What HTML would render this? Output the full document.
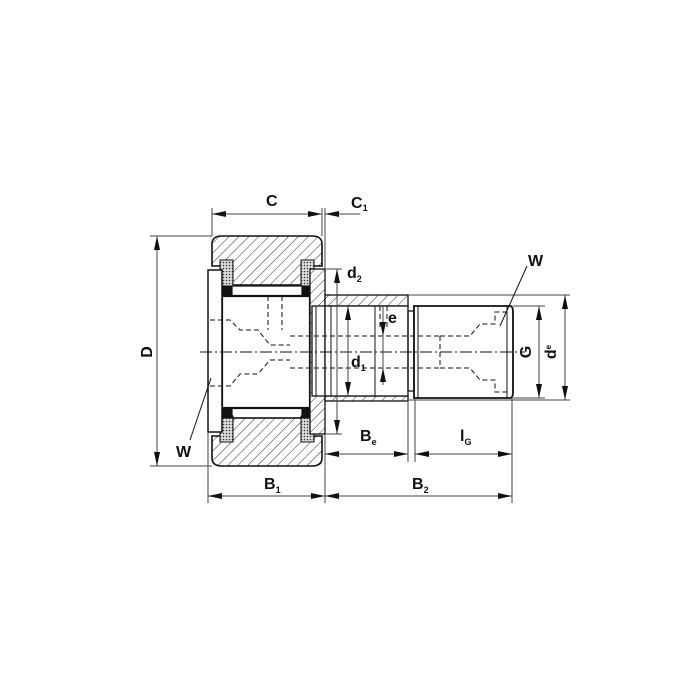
<!DOCTYPE html>
<html><head><meta charset="utf-8"><style>
html,body{margin:0;padding:0;background:#fff;width:700px;height:700px;overflow:hidden}
text{font-family:"Liberation Sans",Arial,sans-serif;font-weight:bold;fill:#111}
</style></head><body>
<svg width="700" height="700" viewBox="0 0 700 700" xmlns="http://www.w3.org/2000/svg">
<defs>
<pattern id="h" patternUnits="userSpaceOnUse" width="7" height="7" patternTransform="rotate(45)">
<rect width="7" height="7" fill="#fff"/><line x1="0" y1="0" x2="0" y2="7" stroke="#333" stroke-width="1"/></pattern>
<pattern id="d" patternUnits="userSpaceOnUse" width="3" height="3">
<rect width="3" height="3" fill="#ddd"/><circle cx="1.5" cy="1.5" r="0.8" fill="#333"/></pattern>
<marker id="a" viewBox="0 0 14 6" refX="14" refY="3" markerWidth="14" markerHeight="6" orient="auto-start-reverse" markerUnits="userSpaceOnUse"><path d="M0,0L14,3L0,6z" fill="#111"/></marker>
</defs>
<g stroke="#111" fill="none">
<path d="M212,244 Q212,236 222,236 L312,236 Q322,236 322,244 L322,266 L302,266 L302,285 L232,285 L232,266 L212,266 Z" fill="url(#h)" stroke-width="1.6"/>
<path d="M212,458 Q212,466 222,466 L312,466 Q322,466 322,458 L322,436 L302,436 L302,418 L232,418 L232,436 L212,436 Z" fill="url(#h)" stroke-width="1.6"/>
<rect x="220" y="260" width="13" height="26" fill="url(#d)" stroke-width="1"/>
<rect x="301" y="260" width="13" height="26" fill="url(#d)" stroke-width="1"/>
<rect x="220" y="416" width="13" height="26" fill="url(#d)" stroke-width="1"/>
<rect x="301" y="416" width="13" height="26" fill="url(#d)" stroke-width="1"/>
<rect x="222" y="286" width="10" height="10" fill="#111"/>
<rect x="302" y="286" width="9" height="10" fill="#111"/>
<rect x="222" y="408" width="10" height="10" fill="#111"/>
<rect x="302" y="408" width="9" height="10" fill="#111"/>
<rect x="232" y="286" width="70" height="10" stroke-width="1.2"/>
<rect x="232" y="408" width="70" height="10" stroke-width="1.2"/>
<rect x="222" y="296" width="88" height="112" stroke-width="2.2" fill="#fff"/>
<rect x="208" y="270" width="14" height="162" stroke-width="1.5" fill="#fff"/>
<rect x="310" y="269" width="15" height="165" fill="url(#h)" stroke-width="1.3"/>
<rect x="312" y="306" width="13" height="90" fill="#fff" stroke-width="1.3"/>
<line x1="316" y1="306" x2="316" y2="396"/>
<rect x="325" y="295" width="83" height="11" fill="url(#h)" stroke-width="1.3"/>
<rect x="325" y="396" width="83" height="5" fill="url(#h)" stroke-width="1.3"/>
<rect x="325" y="306" width="83" height="90" fill="#fff" stroke-width="1.3"/>
<line x1="331" y1="306" x2="331" y2="396"/>
<line x1="375" y1="306" x2="375" y2="396"/>
<rect x="408" y="311" width="6" height="80" stroke-width="1.3"/>
<path d="M414,306 L510,306 Q513,306 513,312 L513,392 Q513,398 510,398 L414,398 Z" stroke-width="1.8" fill="#fff"/>
<line x1="418" y1="306" x2="418" y2="398"/>
<line x1="507" y1="306" x2="507" y2="398"/>
<g stroke-dasharray="5,3" stroke-width="1">
<path d="M210,320 L230,320 L240,330 L258,330 L270,345 L290,345 M210,386 L230,386 L240,374 L258,374 L270,360 L290,360"/>
<path d="M268,296 L268,330 M282,296 L282,330"/>
<path d="M290,336 L330,336 L440,336 M290,368 L440,368"/>
<path d="M440,336 L440,368 M440,336 L470,336 L480,324 L495,324 L495,312 L510,312 M440,368 L470,368 L480,380 L495,380 L495,392 L510,392"/>
<path d="M380,306 L380,330 M387,306 L387,330"/>
</g>
<line x1="200" y1="352" x2="525" y2="352" stroke-dasharray="12,3,2,3" stroke-width="1"/>
</g>
<g stroke="#444" stroke-width="1" fill="none">
<line x1="212" y1="236" x2="212" y2="208"/><line x1="322" y1="236" x2="322" y2="208"/><line x1="325" y1="270" x2="325" y2="208"/>
<line x1="212" y1="214" x2="322" y2="214" marker-start="url(#a)" marker-end="url(#a)"/>
<line x1="360" y1="214" x2="325" y2="214" marker-end="url(#a)"/>
<line x1="150" y1="236" x2="212" y2="236"/><line x1="150" y1="466" x2="212" y2="466"/>
<line x1="157" y1="236" x2="157" y2="466" marker-start="url(#a)" marker-end="url(#a)"/>
<line x1="208" y1="432" x2="208" y2="503"/><line x1="325" y1="434" x2="325" y2="503"/><line x1="512" y1="398" x2="512" y2="503"/>
<line x1="408" y1="401" x2="408" y2="462"/><line x1="415" y1="398" x2="415" y2="462"/>
<line x1="208" y1="496" x2="325" y2="496" marker-start="url(#a)" marker-end="url(#a)"/>
<line x1="325" y1="496" x2="512" y2="496" marker-start="url(#a)" marker-end="url(#a)"/>
<line x1="325" y1="454" x2="408" y2="454" marker-start="url(#a)" marker-end="url(#a)"/>
<line x1="415" y1="454" x2="512" y2="454" marker-start="url(#a)" marker-end="url(#a)"/>
<line x1="325" y1="269" x2="342" y2="269"/><line x1="325" y1="434" x2="342" y2="434"/>
<line x1="337" y1="269" x2="337" y2="434" marker-start="url(#a)" marker-end="url(#a)"/>
<line x1="348" y1="306" x2="348" y2="396" marker-start="url(#a)" marker-end="url(#a)"/>
<line x1="383" y1="306" x2="383" y2="372"/>
<line x1="383" y1="318" x2="383" y2="336" marker-end="url(#a)"/><line x1="383" y1="385" x2="383" y2="368" marker-end="url(#a)"/>
<line x1="408" y1="295" x2="570" y2="295"/><line x1="408" y1="400" x2="570" y2="400"/>
<line x1="513" y1="306" x2="545" y2="306"/><line x1="513" y1="398" x2="545" y2="398"/>
<line x1="539" y1="306" x2="539" y2="398" marker-start="url(#a)" marker-end="url(#a)"/>
<line x1="565" y1="295" x2="565" y2="400" marker-start="url(#a)" marker-end="url(#a)"/>
<line x1="527" y1="266" x2="500" y2="326" stroke="#111"/>
<line x1="190" y1="440" x2="211" y2="378" stroke="#111"/>
</g>
<g font-size="16">
<text x="266" y="206">C</text>
<text x="351" y="208">C<tspan font-size="9" dy="3">1</tspan></text>
<text transform="translate(146 352) rotate(-90)" text-anchor="middle" dy="6">D</text>
<text x="347" y="278">d<tspan font-size="9" dy="4">2</tspan></text>
<text x="351" y="367">d<tspan font-size="9" dy="4">1</tspan></text>
<text x="388" y="323">e</text>
<text x="528" y="266">W</text>
<text x="176" y="457">W</text>
<text x="360" y="441">B<tspan font-size="9" dy="4">e</tspan></text>
<text x="460" y="441">l<tspan font-size="9" dy="4">G</tspan></text>
<text x="264" y="489">B<tspan font-size="9" dy="4">1</tspan></text>
<text x="412" y="489">B<tspan font-size="9" dy="4">2</tspan></text>
<text transform="translate(531 352) rotate(-90)" text-anchor="middle">G</text>
<text transform="translate(556 352) rotate(-90)" text-anchor="middle">d<tspan font-size="8" dy="-5">e</tspan></text>
</g>
</svg>
</body></html>
